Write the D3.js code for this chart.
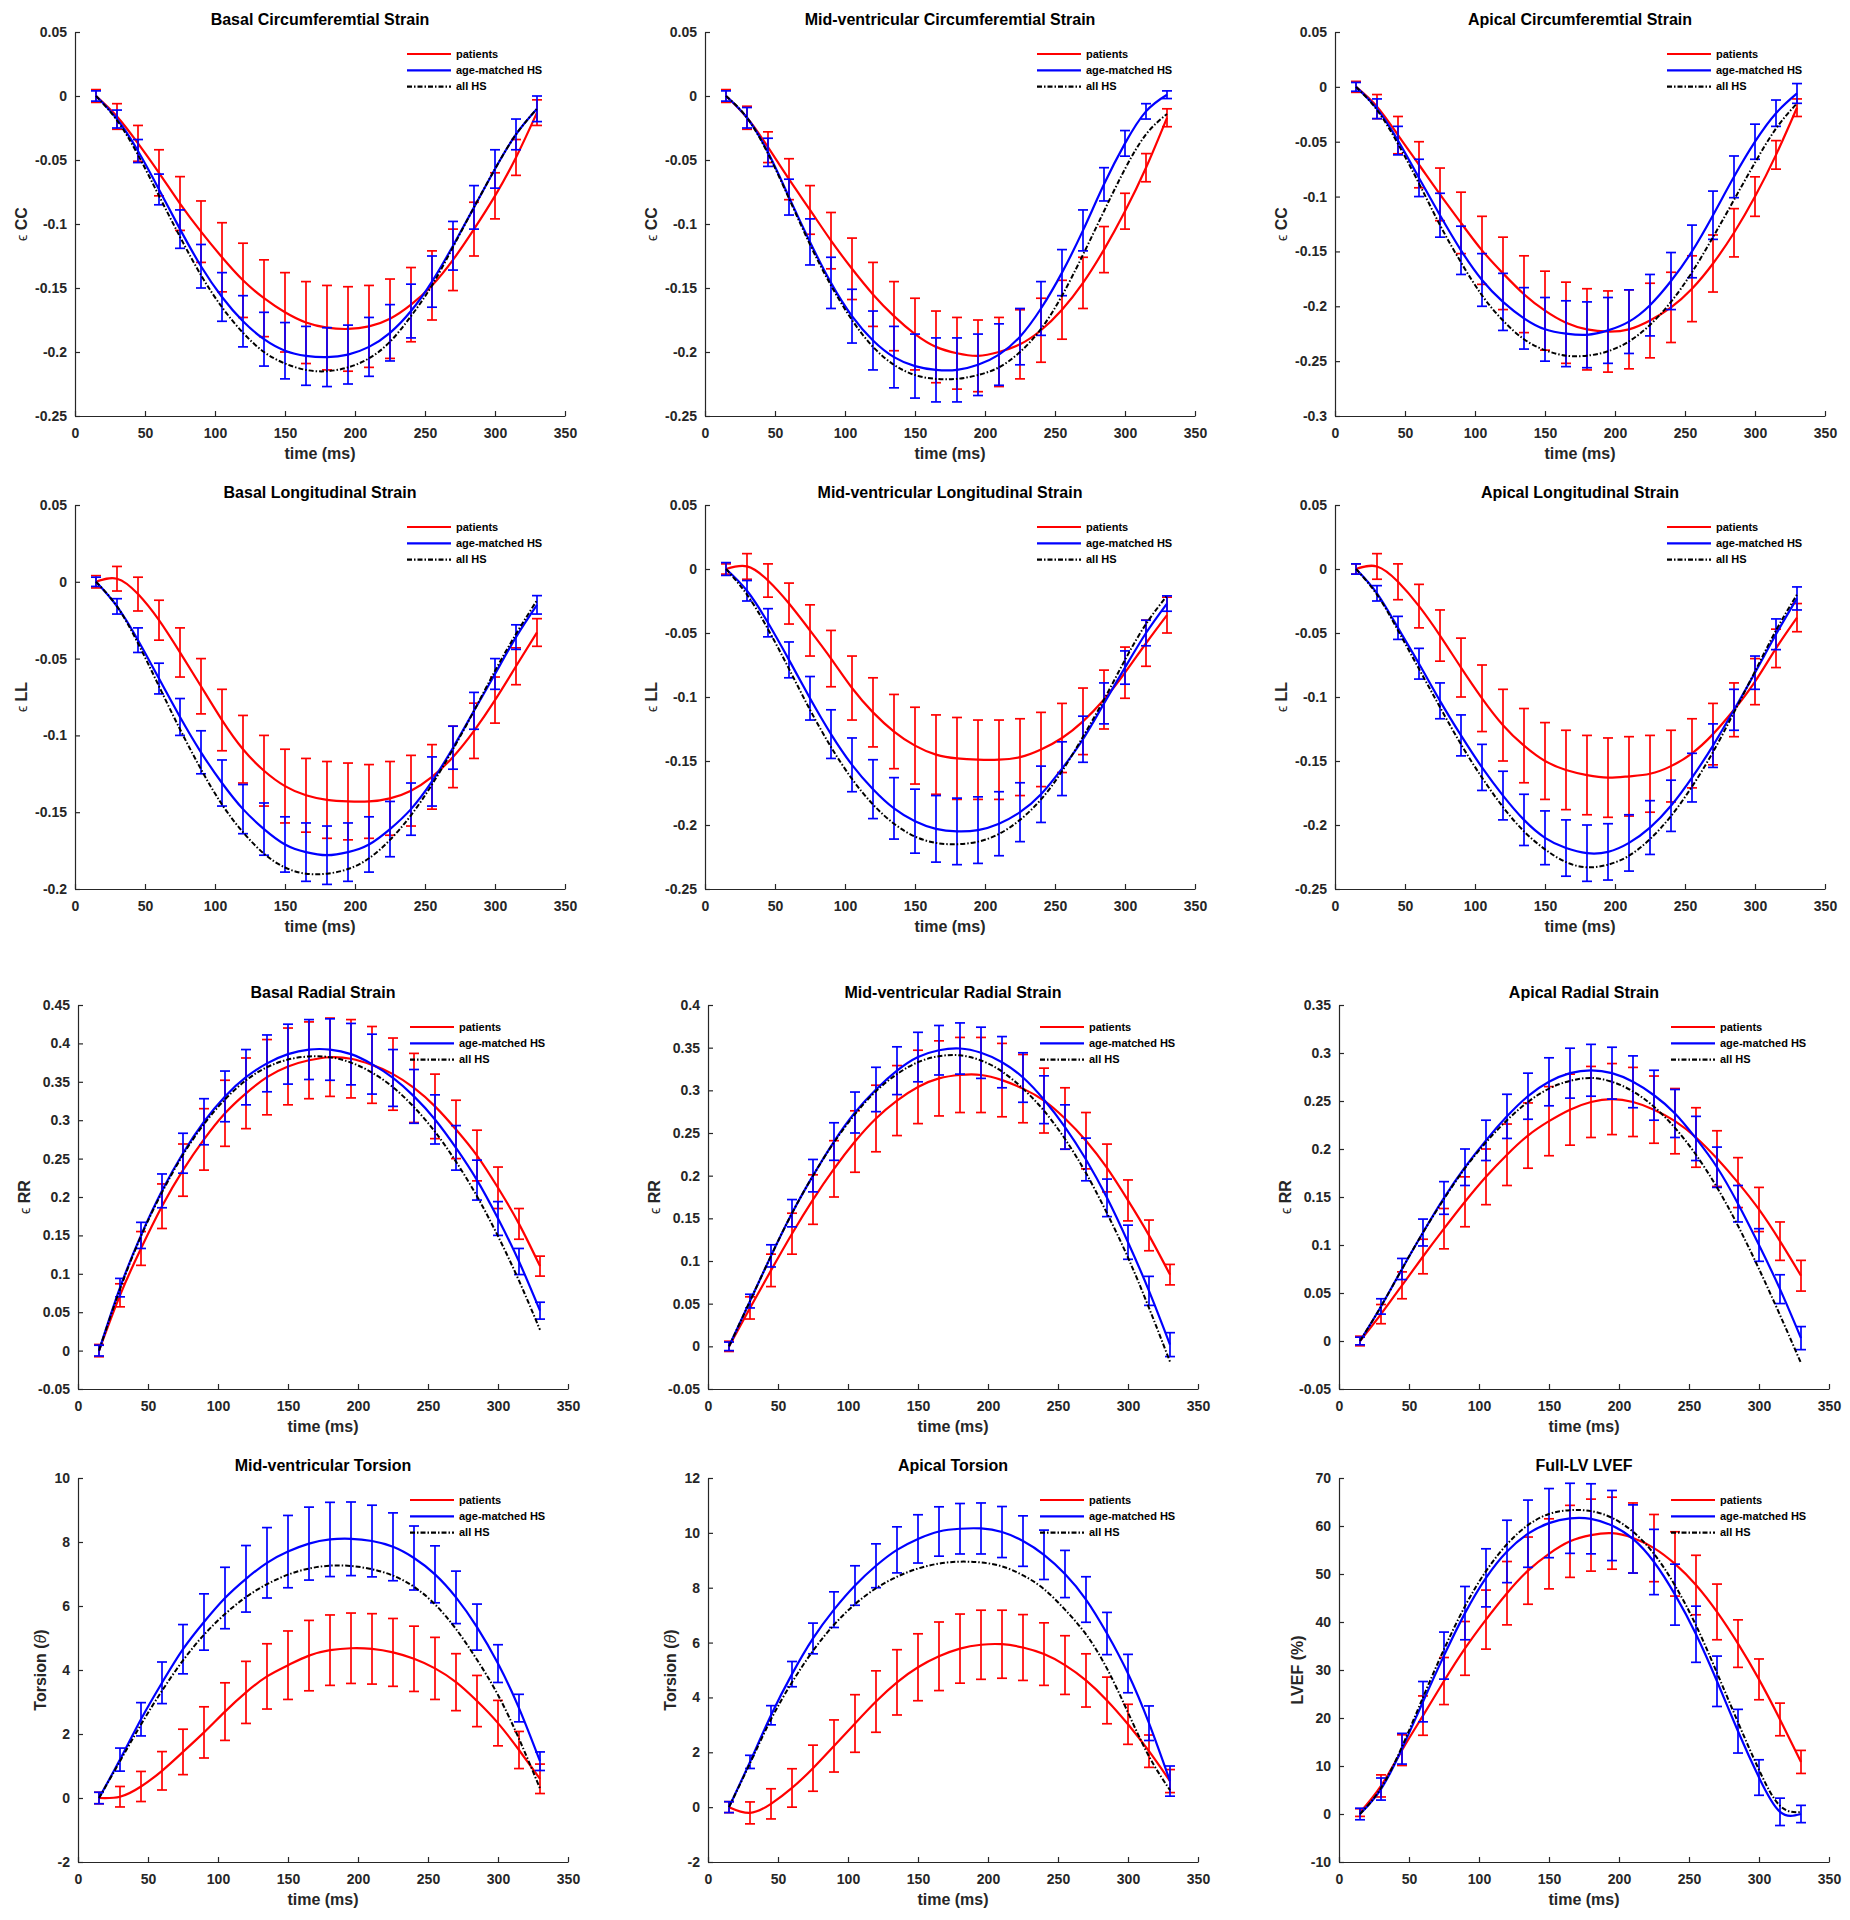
<!DOCTYPE html>
<html><head><meta charset="utf-8">
<script src="https://cdn.jsdelivr.net/npm/d3@7"></script>
<style>body{margin:0;background:#fff}svg{display:block}</style>
</head><body>
<svg id="chart" width="1850" height="1920"></svg>
<script>
// ---------- data ----------
const timeMs = [15,30,45,60,75,90,105,120,135,150,165,180,195,210,225,240,255,270,285,300,315,330];
const xTickValues = [0,50,100,150,200,250,300,350];
const seriesNames = ["patients","age-matched HS","all HS"];

const ccTicks = [-0.25,-0.2,-0.15,-0.1,-0.05,0,0.05];
const apicalCCTicks = [-0.3,-0.25,-0.2,-0.15,-0.1,-0.05,0,0.05];
const basalLLTicks = [-0.2,-0.15,-0.1,-0.05,0,0.05];
const llTicks = [-0.25,-0.2,-0.15,-0.1,-0.05,0,0.05];
const basalRRTicks = [-0.05,0,0.05,0.1,0.15,0.2,0.25,0.3,0.35,0.4,0.45];
const midRRTicks = [-0.05,0,0.05,0.1,0.15,0.2,0.25,0.3,0.35,0.4];
const apicalRRTicks = [-0.05,0,0.05,0.1,0.15,0.2,0.25,0.3,0.35];
const midTorTicks = [-2,0,2,4,6,8,10];
const apicalTorTicks = [-2,0,2,4,6,8,10,12];
const lvefTicks = [-10,0,10,20,30,40,50,60,70];

// Basal circumferential
const basalCC_pat   = [0,-0.016,-0.037,-0.06,-0.084,-0.106,-0.126,-0.144,-0.158,-0.169,-0.177,-0.181,-0.182,-0.18,-0.174,-0.163,-0.148,-0.128,-0.104,-0.078,-0.048,-0.013];
const basalCC_patSD = [0.005,0.01,0.014,0.018,0.021,0.024,0.027,0.029,0.03,0.031,0.032,0.033,0.033,0.032,0.031,0.029,0.027,0.024,0.021,0.018,0.014,0.01];
const basalCC_age   = [0,-0.018,-0.043,-0.073,-0.104,-0.133,-0.157,-0.176,-0.19,-0.199,-0.203,-0.204,-0.202,-0.196,-0.185,-0.168,-0.145,-0.117,-0.087,-0.057,-0.03,-0.01];
const basalCC_ageSD = [0.004,0.007,0.009,0.012,0.015,0.017,0.019,0.02,0.021,0.022,0.023,0.023,0.023,0.023,0.022,0.021,0.02,0.019,0.017,0.015,0.012,0.01];
const basalCC_all   = [0,-0.019,-0.046,-0.078,-0.11,-0.14,-0.165,-0.185,-0.2,-0.209,-0.214,-0.215,-0.212,-0.205,-0.192,-0.172,-0.148,-0.118,-0.087,-0.057,-0.03,-0.01];

// Mid-ventricular circumferential
const midCC_pat   = [0,-0.017,-0.04,-0.065,-0.089,-0.113,-0.135,-0.155,-0.172,-0.186,-0.196,-0.201,-0.203,-0.2,-0.194,-0.183,-0.167,-0.146,-0.12,-0.09,-0.056,-0.017];
const midCC_patSD = [0.005,0.009,0.012,0.016,0.019,0.022,0.024,0.025,0.027,0.028,0.028,0.028,0.028,0.027,0.027,0.025,0.023,0.02,0.018,0.014,0.011,0.007];
const midCC_age   = [0,-0.017,-0.044,-0.079,-0.114,-0.146,-0.172,-0.191,-0.204,-0.211,-0.214,-0.214,-0.21,-0.202,-0.188,-0.166,-0.138,-0.105,-0.069,-0.037,-0.012,0.001];
const midCC_ageSD = [0.004,0.008,0.011,0.014,0.018,0.02,0.021,0.023,0.024,0.025,0.025,0.025,0.024,0.024,0.022,0.021,0.018,0.016,0.013,0.01,0.006,0.003];
const midCC_all   = [0,-0.017,-0.045,-0.08,-0.116,-0.148,-0.175,-0.196,-0.21,-0.218,-0.221,-0.221,-0.218,-0.212,-0.2,-0.182,-0.156,-0.124,-0.09,-0.057,-0.03,-0.014];

// Apical circumferential
const apicalCC_pat   = [0,-0.018,-0.044,-0.071,-0.098,-0.124,-0.149,-0.17,-0.189,-0.204,-0.215,-0.221,-0.223,-0.221,-0.213,-0.201,-0.184,-0.161,-0.133,-0.1,-0.062,-0.019];
const apicalCC_patSD = [0.005,0.011,0.017,0.021,0.024,0.028,0.031,0.033,0.035,0.036,0.037,0.037,0.037,0.036,0.034,0.032,0.03,0.026,0.022,0.018,0.013,0.008];
const apicalCC_age   = [0,-0.02,-0.049,-0.083,-0.117,-0.149,-0.176,-0.196,-0.211,-0.221,-0.225,-0.226,-0.222,-0.214,-0.199,-0.177,-0.15,-0.117,-0.082,-0.05,-0.024,-0.006];
const apicalCC_ageSD = [0.004,0.009,0.013,0.017,0.02,0.022,0.024,0.026,0.028,0.029,0.03,0.03,0.03,0.029,0.028,0.026,0.024,0.022,0.019,0.016,0.012,0.009];
const apicalCC_all   = [0,-0.021,-0.052,-0.088,-0.126,-0.16,-0.19,-0.213,-0.23,-0.24,-0.245,-0.245,-0.241,-0.232,-0.217,-0.196,-0.169,-0.137,-0.103,-0.069,-0.038,-0.015];

// Basal longitudinal
const basalLL_pat   = [0,0.002,-0.008,-0.025,-0.046,-0.068,-0.09,-0.109,-0.123,-0.133,-0.139,-0.142,-0.143,-0.143,-0.141,-0.136,-0.127,-0.114,-0.097,-0.077,-0.055,-0.033];
const basalLL_patSD = [0.004,0.008,0.011,0.013,0.016,0.018,0.02,0.022,0.023,0.024,0.024,0.025,0.025,0.024,0.024,0.023,0.021,0.02,0.018,0.015,0.012,0.009];
const basalLL_age   = [0,-0.016,-0.038,-0.063,-0.088,-0.111,-0.131,-0.148,-0.161,-0.171,-0.176,-0.178,-0.176,-0.171,-0.161,-0.148,-0.13,-0.108,-0.084,-0.06,-0.036,-0.015];
const basalLL_ageSD = [0.003,0.005,0.008,0.01,0.012,0.014,0.015,0.016,0.017,0.018,0.019,0.019,0.019,0.018,0.018,0.017,0.016,0.014,0.012,0.01,0.008,0.006];
const basalLL_all   = [0,-0.016,-0.04,-0.068,-0.096,-0.122,-0.145,-0.163,-0.177,-0.186,-0.19,-0.19,-0.187,-0.18,-0.168,-0.152,-0.132,-0.109,-0.084,-0.058,-0.034,-0.012];

// Mid-ventricular longitudinal
const midLL_pat   = [0,0.002,-0.009,-0.027,-0.048,-0.07,-0.093,-0.112,-0.127,-0.138,-0.145,-0.148,-0.149,-0.149,-0.147,-0.141,-0.132,-0.119,-0.102,-0.081,-0.058,-0.036];
const midLL_patSD = [0.004,0.01,0.013,0.016,0.02,0.022,0.025,0.027,0.029,0.03,0.031,0.032,0.031,0.031,0.03,0.029,0.027,0.026,0.023,0.02,0.018,0.014];
const midLL_age   = [0,-0.017,-0.042,-0.071,-0.101,-0.129,-0.153,-0.172,-0.187,-0.197,-0.203,-0.205,-0.204,-0.199,-0.19,-0.176,-0.156,-0.133,-0.105,-0.077,-0.05,-0.027];
const midLL_ageSD = [0.005,0.008,0.011,0.014,0.017,0.019,0.021,0.023,0.024,0.025,0.026,0.026,0.026,0.025,0.023,0.022,0.021,0.018,0.016,0.013,0.01,0.006];
const midLL_all   = [0,-0.02,-0.047,-0.078,-0.11,-0.139,-0.164,-0.184,-0.199,-0.209,-0.214,-0.215,-0.213,-0.207,-0.196,-0.18,-0.158,-0.131,-0.102,-0.071,-0.043,-0.021];

// Apical longitudinal
const apicalLL_pat   = [0,0.002,-0.01,-0.029,-0.052,-0.077,-0.101,-0.122,-0.138,-0.15,-0.157,-0.161,-0.163,-0.162,-0.16,-0.154,-0.144,-0.129,-0.11,-0.088,-0.062,-0.038];
const apicalLL_patSD = [0.004,0.01,0.014,0.017,0.02,0.023,0.026,0.028,0.029,0.03,0.031,0.031,0.031,0.031,0.03,0.028,0.027,0.024,0.021,0.018,0.015,0.011];
const apicalLL_age   = [0,-0.019,-0.046,-0.074,-0.103,-0.13,-0.155,-0.177,-0.196,-0.21,-0.218,-0.222,-0.221,-0.214,-0.202,-0.185,-0.163,-0.138,-0.11,-0.081,-0.051,-0.023];
const apicalLL_ageSD = [0.004,0.006,0.009,0.012,0.014,0.016,0.018,0.019,0.02,0.021,0.022,0.022,0.022,0.022,0.021,0.02,0.019,0.017,0.016,0.013,0.012,0.009];
const apicalLL_all   = [0,-0.02,-0.048,-0.078,-0.108,-0.137,-0.163,-0.186,-0.205,-0.219,-0.229,-0.233,-0.231,-0.224,-0.211,-0.193,-0.17,-0.143,-0.112,-0.08,-0.048,-0.02];

// Basal radial
const basalRR_pat   = [0,0.072,0.133,0.188,0.235,0.275,0.309,0.335,0.356,0.37,0.378,0.382,0.38,0.372,0.36,0.342,0.318,0.288,0.254,0.212,0.165,0.11];
const basalRR_patSD = [0.008,0.015,0.022,0.029,0.034,0.04,0.043,0.046,0.049,0.05,0.05,0.051,0.051,0.05,0.047,0.045,0.042,0.038,0.033,0.027,0.02,0.013];
const basalRR_age   = [0,0.082,0.15,0.208,0.257,0.298,0.331,0.356,0.374,0.386,0.392,0.392,0.386,0.373,0.355,0.331,0.301,0.264,0.222,0.172,0.116,0.052];
const basalRR_ageSD = [0.007,0.012,0.017,0.022,0.026,0.03,0.033,0.036,0.037,0.039,0.039,0.04,0.04,0.039,0.037,0.035,0.032,0.029,0.026,0.022,0.017,0.011];
const basalRR_all   = [0,0.08,0.149,0.206,0.255,0.295,0.327,0.352,0.369,0.379,0.383,0.382,0.375,0.362,0.343,0.317,0.285,0.246,0.201,0.149,0.091,0.027];

// Mid-ventricular radial
const midRR_pat   = [0,0.045,0.089,0.132,0.172,0.208,0.24,0.267,0.288,0.304,0.314,0.318,0.318,0.312,0.302,0.288,0.267,0.241,0.209,0.171,0.13,0.084];
const midRR_patSD = [0.006,0.013,0.019,0.024,0.029,0.033,0.036,0.039,0.041,0.043,0.044,0.044,0.044,0.043,0.04,0.038,0.036,0.033,0.028,0.024,0.018,0.012];
const midRR_age   = [0,0.053,0.106,0.156,0.2,0.24,0.274,0.301,0.323,0.339,0.347,0.349,0.344,0.333,0.315,0.289,0.257,0.219,0.174,0.122,0.065,0.002];
const midRR_ageSD = [0.005,0.008,0.013,0.016,0.019,0.022,0.024,0.026,0.028,0.029,0.029,0.03,0.03,0.03,0.029,0.028,0.026,0.025,0.022,0.02,0.017,0.014];
const midRR_all   = [0,0.053,0.106,0.156,0.2,0.239,0.272,0.299,0.319,0.333,0.34,0.341,0.335,0.322,0.302,0.276,0.243,0.203,0.156,0.104,0.045,-0.018];

// Apical radial
const apicalRR_pat   = [0,0.028,0.058,0.088,0.117,0.145,0.171,0.194,0.214,0.229,0.241,0.249,0.252,0.249,0.241,0.229,0.212,0.19,0.165,0.137,0.104,0.068];
const apicalRR_patSD = [0.005,0.01,0.014,0.018,0.021,0.026,0.029,0.032,0.034,0.036,0.037,0.037,0.037,0.036,0.035,0.034,0.031,0.029,0.026,0.023,0.02,0.016];
const apicalRR_age   = [0,0.036,0.075,0.113,0.149,0.181,0.209,0.234,0.255,0.27,0.279,0.282,0.279,0.27,0.256,0.237,0.211,0.181,0.143,0.1,0.054,0.003];
const apicalRR_ageSD = [0.004,0.008,0.011,0.014,0.017,0.019,0.021,0.023,0.024,0.025,0.026,0.027,0.027,0.027,0.026,0.025,0.023,0.021,0.019,0.017,0.015,0.012];
const apicalRR_all   = [0,0.036,0.075,0.113,0.148,0.18,0.207,0.23,0.249,0.263,0.271,0.274,0.27,0.26,0.244,0.222,0.194,0.16,0.12,0.075,0.027,-0.023];

// Mid-ventricular torsion
const midTor_pat   = [0,0.04,0.36,0.85,1.44,2.05,2.7,3.3,3.8,4.15,4.45,4.62,4.68,4.66,4.55,4.35,4.05,3.62,3.03,2.34,1.5,0.6];
const midTor_patSD = [0.18,0.32,0.47,0.6,0.71,0.8,0.9,0.97,1.02,1.07,1.1,1.1,1.1,1.1,1.06,1.02,0.97,0.89,0.8,0.71,0.58,0.46];
const midTor_age   = [0,1.2,2.46,3.6,4.65,5.5,6.25,6.85,7.35,7.7,7.95,8.08,8.1,8.03,7.85,7.5,6.99,6.27,5.34,4.2,2.81,1.15];
const midTor_ageSD = [0.18,0.36,0.52,0.65,0.77,0.88,0.96,1.04,1.1,1.13,1.14,1.16,1.15,1.12,1.06,1.0,0.89,0.82,0.72,0.59,0.43,0.29];
const midTor_all   = [0,1.15,2.3,3.35,4.3,5.1,5.75,6.28,6.68,6.98,7.17,7.26,7.25,7.15,6.95,6.6,6.05,5.28,4.32,3.22,1.85,0.3];

// Apical torsion
const apicalTor_pat   = [0,-0.21,0.12,0.7,1.42,2.23,3.05,3.85,4.55,5.1,5.5,5.78,5.92,5.94,5.82,5.58,5.18,4.62,3.89,3.02,2.04,0.95];
const apicalTor_patSD = [0.2,0.4,0.55,0.7,0.84,0.95,1.05,1.12,1.19,1.22,1.25,1.26,1.26,1.24,1.2,1.14,1.07,0.97,0.85,0.73,0.59,0.42];
const apicalTor_age   = [0,1.65,3.35,4.85,6.15,7.2,8.08,8.8,9.38,9.78,10.05,10.15,10.16,10.03,9.7,9.2,8.5,7.57,6.33,4.87,3.06,0.95];
const apicalTor_ageSD = [0.2,0.24,0.35,0.46,0.56,0.65,0.72,0.8,0.84,0.88,0.9,0.92,0.93,0.93,0.92,0.9,0.86,0.83,0.77,0.7,0.63,0.55];
const apicalTor_all   = [0,1.6,3.2,4.55,5.7,6.65,7.4,7.98,8.4,8.7,8.88,8.95,8.92,8.78,8.45,7.95,7.2,6.3,5.05,3.45,1.85,0.62];

// Full-LV LVEF
const lvef_pat   = [0.3,5.85,13.3,20.5,27.7,34.5,40.5,46,50.7,54.2,56.8,58.1,58.5,57.5,55.4,52.1,47.7,42.1,35.5,28.05,19.7,10.85];
const lvef_patSD = [0.8,2.3,3.2,4.1,4.9,5.6,6.15,6.6,7,7.3,7.5,7.5,7.5,7.3,7,6.7,6.2,5.8,4.95,4.25,3.4,2.4];
const lvef_age   = [0,5.2,13.6,23.4,33,41.85,49.2,54.7,58.4,60.6,61.6,61.5,60.1,57.3,52.5,45.7,37.45,27.65,17.25,7.6,0.45,0];
const lvef_ageSD = [1.2,2.3,3.2,4.2,4.9,5.55,6.05,6.5,7,7.2,7.3,7.3,7.3,7.1,6.8,6.35,5.85,5.25,4.55,3.7,2.85,1.8];
const lvef_all   = [0,5.4,14,24.3,34.3,43.3,50.6,56.2,60.2,62.5,63.3,63.1,61.7,58.8,54.2,47.6,39.3,29.4,19.1,9.2,1.7,0.4];

const panels = [
  {title:"Basal Circumferemtial Strain", ylab:"CC", eps:true, ticks:ccTicks, pat:basalCC_pat, patSD:basalCC_patSD, age:basalCC_age, ageSD:basalCC_ageSD, all:basalCC_all},
  {title:"Mid-ventricular Circumferemtial Strain", ylab:"CC", eps:true, ticks:ccTicks, pat:midCC_pat, patSD:midCC_patSD, age:midCC_age, ageSD:midCC_ageSD, all:midCC_all},
  {title:"Apical Circumferemtial Strain", ylab:"CC", eps:true, ticks:apicalCCTicks, pat:apicalCC_pat, patSD:apicalCC_patSD, age:apicalCC_age, ageSD:apicalCC_ageSD, all:apicalCC_all},
  {title:"Basal Longitudinal Strain", ylab:"LL", eps:true, ticks:basalLLTicks, pat:basalLL_pat, patSD:basalLL_patSD, age:basalLL_age, ageSD:basalLL_ageSD, all:basalLL_all},
  {title:"Mid-ventricular Longitudinal Strain", ylab:"LL", eps:true, ticks:llTicks, pat:midLL_pat, patSD:midLL_patSD, age:midLL_age, ageSD:midLL_ageSD, all:midLL_all},
  {title:"Apical Longitudinal Strain", ylab:"LL", eps:true, ticks:llTicks, pat:apicalLL_pat, patSD:apicalLL_patSD, age:apicalLL_age, ageSD:apicalLL_ageSD, all:apicalLL_all},
  {title:"Basal Radial Strain", ylab:"RR", eps:true, ticks:basalRRTicks, pat:basalRR_pat, patSD:basalRR_patSD, age:basalRR_age, ageSD:basalRR_ageSD, all:basalRR_all},
  {title:"Mid-ventricular Radial Strain", ylab:"RR", eps:true, ticks:midRRTicks, pat:midRR_pat, patSD:midRR_patSD, age:midRR_age, ageSD:midRR_ageSD, all:midRR_all},
  {title:"Apical Radial Strain", ylab:"RR", eps:true, ticks:apicalRRTicks, pat:apicalRR_pat, patSD:apicalRR_patSD, age:apicalRR_age, ageSD:apicalRR_ageSD, all:apicalRR_all},
  {title:"Mid-ventricular Torsion", ylab:"torsion", ticks:midTorTicks, pat:midTor_pat, patSD:midTor_patSD, age:midTor_age, ageSD:midTor_ageSD, all:midTor_all},
  {title:"Apical Torsion", ylab:"torsion", ticks:apicalTorTicks, pat:apicalTor_pat, patSD:apicalTor_patSD, age:apicalTor_age, ageSD:apicalTor_ageSD, all:apicalTor_all},
  {title:"Full-LV LVEF", ylab:"LVEF (%)", ticks:lvefTicks, pat:lvef_pat, patSD:lvef_patSD, age:lvef_age, ageSD:lvef_ageSD, all:lvef_all}
];

// ---------- layout ----------
const FONT = '"Liberation Sans", Arial, Helvetica, sans-serif';
const rowTops = [32, 505, 1005, 1478];
const colLeftsTop = [75, 705, 1335];
const colLeftsBottom = [78, 708, 1339];
const W = 490, H = 384;
const AX = "#262626";
const RED = "#ff0000", BLUE = "#0000ff", BLACK = "#000000";
const DASHDOT = "5,2,1.5,2";

const svg = d3.select("#chart");
const fmt = d => String(+d.toFixed(4));

panels.forEach((p, i) => {
  const r = Math.floor(i / 3), c = i % 3;
  const left = (r < 2 ? colLeftsTop : colLeftsBottom)[c];
  const top = rowTops[r];
  const g = svg.append("g").attr("transform", `translate(${left},${top})`);
  const x = d3.scaleLinear().domain([0, 350]).range([0, W]);
  const y = d3.scaleLinear().domain([p.ticks[0], p.ticks[p.ticks.length - 1]]).range([H, 0]);

  // axes
  const xa = g.append("g").attr("transform", `translate(0,${H})`)
    .call(d3.axisBottom(x).tickValues(xTickValues).tickSizeInner(-5).tickSizeOuter(0).tickPadding(12).tickFormat(fmt));
  const ya = g.append("g")
    .call(d3.axisLeft(y).tickValues(p.ticks).tickSizeInner(-5).tickSizeOuter(0).tickPadding(8).tickFormat(fmt));
  [xa, ya].forEach(a => {
    a.attr("font-family", FONT).attr("font-size", 14).attr("font-weight", "bold");
    a.selectAll("path,line").attr("stroke", AX).attr("stroke-width", 1.2);
    a.selectAll("text").attr("fill", AX);
  });

  // series
  const line = d3.line().x((d, k) => x(timeMs[k])).y(d => y(d)).curve(d3.curveNatural);
  const drawBars = (m, sd, color) => {
    const eb = g.append("g").attr("stroke", color).attr("stroke-width", 1.7).attr("fill", "none");
    m.forEach((v, k) => {
      const xx = x(timeMs[k]), y1 = y(v + sd[k]), y2 = y(v - sd[k]);
      eb.append("line").attr("x1", xx).attr("x2", xx).attr("y1", y1).attr("y2", y2);
      eb.append("line").attr("x1", xx - 5).attr("x2", xx + 5).attr("y1", y1).attr("y2", y1);
      eb.append("line").attr("x1", xx - 5).attr("x2", xx + 5).attr("y1", y2).attr("y2", y2);
    });
  };
  drawBars(p.pat, p.patSD, RED);
  g.append("path").attr("d", line(p.pat)).attr("fill", "none").attr("stroke", RED).attr("stroke-width", 2.2);
  drawBars(p.age, p.ageSD, BLUE);
  g.append("path").attr("d", line(p.age)).attr("fill", "none").attr("stroke", BLUE).attr("stroke-width", 2.2);
  g.append("path").attr("d", line(p.all)).attr("fill", "none").attr("stroke", BLACK).attr("stroke-width", 2).attr("stroke-dasharray", DASHDOT);

  // legend
  const lg = g.append("g").attr("transform", `translate(${W - 158},22)`);
  const styles = [{c: RED, d: null}, {c: BLUE, d: null}, {c: BLACK, d: DASHDOT}];
  seriesNames.forEach((name, k) => {
    const yy = k * 16.3;
    const ln = lg.append("line").attr("x1", 0).attr("x2", 44).attr("y1", yy).attr("y2", yy)
      .attr("stroke", styles[k].c).attr("stroke-width", 2.2);
    if (styles[k].d) ln.attr("stroke-dasharray", styles[k].d);
    lg.append("text").attr("x", 49).attr("y", yy).attr("dy", "0.35em")
      .attr("font-family", FONT).attr("font-size", 11).attr("font-weight", "bold").attr("fill", "#000").text(name);
  });

  // title
  g.append("text").attr("x", W / 2).attr("y", -7).attr("text-anchor", "middle")
    .attr("font-family", FONT).attr("font-size", 16).attr("font-weight", "bold").attr("fill", "#000").text(p.title);
  // x label
  g.append("text").attr("x", W / 2).attr("y", H + 43).attr("text-anchor", "middle")
    .attr("font-family", FONT).attr("font-size", 16).attr("font-weight", "bold").attr("fill", AX).text("time (ms)");

  // y label
  const maxW = d3.max(ya.selectAll(".tick text").nodes(), n => n.getBBox().width);
  const yl = g.append("text").attr("transform", `translate(${-(16 + maxW)},${H / 2}) rotate(-90)`)
    .attr("text-anchor", "middle").attr("font-family", FONT).attr("fill", AX);
  if (p.eps) {
    yl.append("tspan").attr("font-size", 14).attr("font-weight", "normal").text("\u03F5");
    yl.append("tspan").attr("font-size", 16).attr("font-weight", "bold").text(" " + p.ylab);
  } else if (p.ylab === "torsion") {
    yl.append("tspan").attr("font-size", 16).attr("font-weight", "bold").text("Torsion (");
    yl.append("tspan").attr("font-size", 16).attr("font-style", "italic").attr("font-weight", "normal").text("\u03B8");
    yl.append("tspan").attr("font-size", 16).attr("font-weight", "bold").text(")");
  } else {
    yl.append("tspan").attr("font-size", 16).attr("font-weight", "bold").text(p.ylab);
  }
});
</script>
</body></html>
